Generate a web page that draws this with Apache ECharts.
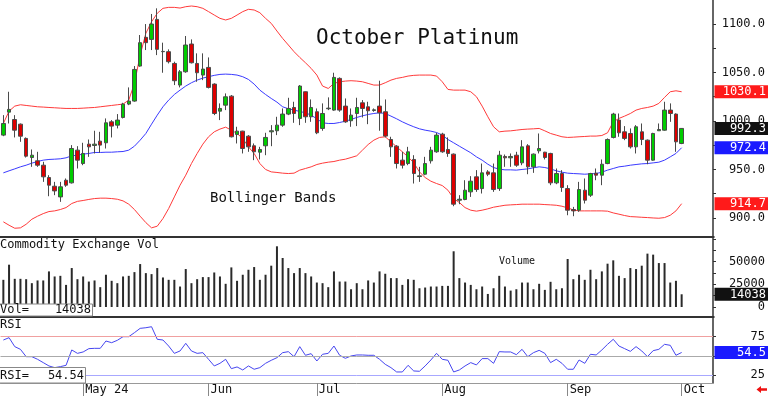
<!DOCTYPE html>
<html><head><meta charset="utf-8">
<script src="https://cdn.jsdelivr.net/npm/echarts@6/dist/echarts.min.js"></script>
<style>html,body{margin:0;padding:0;background:#fff}#c{width:768px;height:396px}</style>
</head><body><div id="c"></div>
<script>
// ---- categories: trading days Apr 11 2024 .. Oct 1 2024 ----
const months = [
  ['Apr', [11,12,15,16,17,18,19,22,23,24,25,26,29,30]],
  ['May', [1,2,3,6,7,8,9,10,13,14,15,16,17,20,21,22,23,24,28,29,30,31]],
  ['Jun', [3,4,5,6,7,10,11,12,13,14,17,18,20,21,24,25,26,27,28]],
  ['Jul', [1,2,3,5,8,9,10,11,12,15,16,17,18,19,22,23,24,25,26,29,30,31]],
  ['Aug', [1,2,5,6,7,8,9,12,13,14,15,16,19,20,21,22,23,26,27,28,29,30]],
  ['Sep', [3,4,5,6,9,10,11,12,13,16,17,18,19,20,23,24,25,26,27,30]],
  ['Oct', [1]]
];
const monthLabels = {May:'May 24', Jun:'Jun', Jul:'Jul', Aug:'Aug', Sep:'Sep', Oct:'Oct'};
const padCount = 5;

// ---- price series ----
const open = [985.4,1009.1,1001.5,996.7,982.0,962.3,958.9,954.4,941.7,932.7,921.7,938.9,936.2,969.9,956.1,976.1,974.7,979.2,977.5,999.1,
995.7,1003.6,1017.4,1020.5,1056.6,1086.2,1084.1,1104.7,1071.4,1071.4,1059.3,1037.0,1050.7,1079.3,1059.3,1047.3,1055.2,1038.0,1010.1,1016.3,
1025.6,986.1,989.5,984.3,974.4,967.8,974.4,988.8,989.9,995.7,1007.1,1013.9,1002.6,1030.1,1004.3,1009.5,992.3,1012.6,1011.2,1043.9,
1015.3,1000.2,1007.7,1018.7,1014.6,1010.8,1015.3,1009.5,980.9,974.0,959.6,956.1,960.3,942.7,945.1,958.9,968.2,986.4,970.6,965.8,
918.3,919.0,926.9,942.4,930.3,947.5,946.5,930.3,963.4,962.0,964.7,956.8,974.4,952.7,969.2,967.8,966.5,936.2,945.8,930.3,
908.7,908.0,928.6,923.5,946.2,944.1,956.1,983.0,1000.9,988.8,987.1,973.3,988.8,980.2,959.6,989.9,990.5,1011.2,1007.1,976.8];
const high = [1006.0,1030.1,1006.0,997.4,983.0,970.6,968.2,957.9,944.1,937.2,937.2,940.7,975.1,974.0,977.5,980.9,989.9,988.8,1002.6,1000.9,
1007.1,1018.7,1034.6,1056.6,1088.6,1099.9,1110.3,1116.1,1080.7,1073.8,1061.1,1052.5,1087.6,1084.1,1069.7,1069.7,1065.5,1038.8,1018.1,1028.4,
1026.7,994.0,989.9,985.4,976.8,973.3,987.8,995.7,1004.3,1012.9,1023.9,1019.8,1037.0,1030.4,1022.2,1012.9,1018.1,1024.3,1049.7,1044.9,
1023.2,1012.9,1023.9,1021.5,1019.8,1012.9,1041.5,1022.2,983.7,975.1,968.2,973.3,964.7,952.7,963.0,973.3,987.8,987.8,983.0,966.5,
923.5,938.9,943.1,949.3,956.1,949.3,956.1,969.2,965.4,966.5,968.2,980.2,976.1,966.5,987.1,968.2,967.2,951.0,949.3,933.8,
911.4,937.2,940.7,946.5,951.0,960.3,982.0,1008.4,1007.7,994.7,992.3,995.7,997.4,980.9,987.8,997.4,1019.8,1018.1,1007.8,992.6];
const low = [984.3,997.4,983.0,978.5,962.3,952.7,952.7,937.2,922.4,923.5,916.6,932.1,935.5,951.0,954.4,963.0,966.5,967.2,971.6,983.0,
992.3,1002.6,1016.3,1019.8,1055.9,1073.1,1073.1,1067.9,1049.7,1059.3,1037.0,1034.6,1049.7,1059.3,1040.4,1042.1,1033.5,1006.0,1000.9,1011.2,
983.0,976.8,966.5,968.2,959.6,960.3,964.7,974.0,985.4,994.0,1006.0,998.1,995.7,998.1,999.1,986.4,989.9,1011.2,1010.5,1009.5,
998.1,994.0,994.7,1003.6,996.7,1009.5,989.9,983.0,963.0,951.0,951.0,954.4,935.5,937.2,944.1,956.1,967.2,967.2,963.0,912.1,
914.2,918.3,921.7,926.9,925.2,943.1,926.9,927.9,952.7,952.7,952.7,954.4,945.1,946.5,966.5,960.3,933.8,934.8,926.9,902.8,
901.8,906.3,914.9,921.7,938.9,933.8,955.4,982.0,983.7,980.2,971.6,966.5,975.1,955.4,958.9,989.9,989.9,999.1,968.2,976.1];
const close = [997.4,1011.9,990.5,984.3,963.7,964.7,954.4,942.4,933.8,927.9,932.1,933.8,971.6,959.6,966.5,973.3,976.1,975.1,998.1,994.7,
1000.9,1017.4,1020.5,1053.1,1080.7,1080.7,1099.9,1073.8,1071.7,1061.1,1041.5,1050.7,1078.3,1060.0,1049.7,1053.5,1034.6,1007.7,1012.9,1024.9,
983.7,989.5,971.6,973.3,968.2,970.6,983.0,989.9,995.7,1007.1,1012.9,1007.7,1036.0,1004.3,1013.9,987.8,1007.7,1013.2,1044.9,1011.2,
999.1,1006.0,1013.9,1012.9,1010.5,1011.5,1008.4,984.4,973.3,956.1,954.4,968.2,945.8,943.4,956.1,969.9,985.4,968.2,966.5,914.2,
919.3,928.6,937.9,929.3,946.5,945.1,929.3,964.7,962.0,963.4,954.4,973.3,952.7,965.8,971.6,962.3,936.2,945.8,931.4,908.0,
907.3,929.3,918.3,945.8,944.1,955.4,980.9,1007.1,987.8,982.0,973.3,994.0,980.9,959.6,987.1,991.2,1011.2,1007.7,978.5,992.3];

// ---- Bollinger bands ----
const upperBand = [997.4,1010.1,1015.3,1016.7,1016.0,1015.3,1014.6,1014.3,1013.9,1013.6,1013.2,1012.9,1012.9,1012.9,1013.2,1013.6,1013.9,1014.6,1015.3,1016.0,
1016.7,1017.4,1021.5,1038.7,1067.9,1090.3,1102.3,1111.0,1116.1,1117.1,1117.1,1116.4,1117.8,1118.5,1117.8,1116.1,1112.7,1109.2,1105.8,1104.1,
1105.8,1109.2,1112.7,1115.1,1114.4,1111.6,1105.8,1100.6,1092.7,1085.1,1078.3,1071.4,1065.5,1060.0,1054.2,1047.3,1036.0,1033.5,1038.7,1040.4,
1041.1,1041.5,1041.1,1040.4,1038.7,1037.0,1037.0,1039.4,1042.1,1043.9,1044.9,1046.3,1047.0,1047.3,1047.3,1047.3,1046.3,1040.4,1032.5,1031.8,
1031.8,1031.8,1030.1,1025.0,1015.3,1004.3,994.0,988.8,989.5,989.8,990.5,991.2,991.6,991.9,992.3,989.8,987.1,985.4,983.7,983.0,
983.3,983.7,984.0,984.4,984.4,985.0,987.8,999.1,1002.6,1005.0,1007.7,1011.2,1012.9,1013.9,1015.3,1018.1,1024.3,1030.1,1031.1,1030.1];
const middleBand = [946.5,948.6,950.6,952.7,954.4,956.5,958.2,959.6,960.3,960.6,961.0,962.0,964.1,964.7,965.8,966.5,967.5,967.5,967.8,967.8,
968.2,968.5,969.9,974.0,980.2,987.1,996.7,1006.0,1014.6,1021.5,1027.3,1031.8,1036.0,1039.4,1042.1,1044.2,1045.6,1047.0,1048.0,1048.3,
1048.0,1047.3,1045.6,1042.8,1038.0,1031.8,1027.3,1023.2,1019.4,1014.6,1012.6,1011.2,1009.8,1008.4,1006.0,1002.2,998.1,997.4,997.4,998.4,
999.8,1001.5,1003.6,1005.3,1006.7,1007.7,1008.4,1007.7,1005.0,1002.2,999.1,996.4,994.0,991.9,990.5,989.5,988.1,985.4,980.9,977.5,
974.0,970.6,967.2,963.0,959.6,955.4,952.0,950.3,949.6,949.6,949.3,950.0,950.6,951.7,952.7,952.0,950.6,948.6,947.2,946.2,
945.8,945.5,945.1,945.5,945.8,947.2,949.3,951.0,952.7,953.4,954.4,955.1,955.8,956.1,956.8,957.5,959.6,963.0,966.5,972.4];
const lowerBand = [896.0,892.5,889.4,889.8,893.5,898.7,901.8,904.5,906.6,907.3,908.7,910.7,914.9,917.1,918.0,919.1,920.0,920.4,920.4,920.0,
919.3,917.6,914.2,908.7,901.8,895.2,889.8,891.5,899.4,909.7,921.7,933.8,944.1,956.1,966.5,976.1,983.7,988.8,991.6,993.6,
990.5,987.1,981.9,973.3,966.5,956.1,950.0,947.5,946.9,946.2,945.8,946.2,949.3,951.0,952.7,955.1,956.5,957.5,958.2,959.6,
960.6,962.3,964.1,969.9,975.7,980.2,983.0,983.7,978.5,973.3,968.2,963.0,956.8,947.5,941.7,937.9,935.5,933.4,928.6,920.0,
915.9,910.7,908.0,907.0,908.0,909.4,911.1,912.1,913.1,913.5,913.8,914.2,914.2,914.2,914.2,913.8,913.5,913.1,912.1,910.4,
908.3,907.3,907.3,907.3,907.3,907.3,907.0,905.2,903.9,902.5,901.4,901.1,900.7,900.4,900.0,899.7,900.4,902.8,907.3,914.7];

// ---- volume ----
const volume = [30000,46700,31100,31100,30700,26300,29300,29300,39300,33700,34400,24400,43000,30700,33700,28100,29300,21900,35600,28900,
26300,33700,34400,38500,47400,37400,36300,43000,32600,30000,30000,22600,41900,26300,30700,33000,33000,38100,33700,25600,
43700,28900,35600,41100,44100,30000,35600,45600,67000,54100,43000,37400,43000,37400,33700,27000,26300,21900,39300,28100,
28100,19600,26300,19600,29300,27000,39300,36700,31900,31900,24400,30700,30000,20700,21500,22600,22600,23300,23300,61500,
31900,27000,24400,19600,22600,14400,20700,34400,22600,18100,19600,27000,27000,19600,25600,18900,27800,19600,20700,53000,
30700,35600,30000,41100,30700,39300,47800,51500,34400,31900,43000,41900,45600,58900,57800,48500,48500,27000,28900,14038];

// ---- RSI ----
const rsi = [70.7,73.7,62.1,58.6,49.1,49.1,45.7,41.4,37.1,34.9,36.2,37.9,57.8,53.4,55.2,59.5,59.9,59.9,69.4,67.2,
70.3,75.0,75.0,80.2,85.8,86.6,87.9,71.6,70.7,62.9,53.4,56.5,66.4,56.5,53.4,54.3,45.7,37.1,40.5,45.7,
33.6,35.8,31.9,37.1,32.8,34.9,40.5,44.4,47.8,54.3,55.6,49.1,62.1,50.9,53.0,43.5,52.2,53.4,62.9,50.9,
47.0,50.0,51.3,51.3,50.9,50.9,45.7,39.2,34.9,29.3,29.3,37.9,30.6,30.2,37.1,44.8,53.4,45.7,44.4,29.3,
31.9,37.1,41.4,38.4,46.6,46.6,40.5,55.6,55.2,55.2,51.7,58.6,49.1,54.3,57.3,53.4,41.4,45.7,40.5,32.8,
32.8,44.8,40.5,52.2,51.3,57.8,65.1,71.6,62.9,59.5,56.0,62.1,56.5,49.1,56.9,58.6,65.1,63.8,50.9,54.54];

// ---- tick labels ----
const priceTicks = [900, 950, 1000, 1050, 1100];
const priceMinorTicks = [900, 925, 950, 975, 1000, 1025, 1050, 1075, 1100];
const volTicks = [0, 25000, 50000];
const rsiTicks = [25, 50, 75];

// ---------------------------------------------------------------
const FONT = '"DejaVu Sans Mono", "Liberation Mono", monospace';
const dates = [];
const labelAt = {};
months.forEach(([m, ds]) => {
  ds.forEach((d, j) => {
    if (j === 0 && monthLabels[m]) labelAt[dates.length] = monthLabels[m];
    dates.push(m + ' ' + d);
  });
});
for (let k = 0; k < padCount; k++) dates.push('pad' + k);
const n = close.length;
const ohlc = close.map((c, i) => [open[i], c, low[i], high[i]]);
const showIdx = (i) => labelAt[i] !== undefined;

const gridLeft = 0.5, gridW = 713.5;
const chart = echarts.init(document.getElementById('c'), null, {renderer: 'canvas'});

const hiddenX = (gi) => ({gridIndex: gi, type: 'category', data: dates, boundaryGap: true, show: false});
const yBase = (gi, min, max, labels, ticks, fmt) => ({
  gridIndex: gi, type: 'value', position: 'right', min, max, scale: false,
  splitLine: {show: false},
  axisLine: {show: true, lineStyle: {color: '#333', width: 1.5}},
  axisTick: {show: true, length: 3, customValues: ticks, lineStyle: {color: '#333'}},
  axisLabel: {show: true, customValues: labels, formatter: fmt, align: 'right', margin: 52,
    fontFamily: FONT, fontSize: 12, color: '#111'}
});

chart.setOption({
  animation: false,
  backgroundColor: '#fff',
  grid: [
    {left: gridLeft, top: 0, width: gridW, height: 236},
    {left: gridLeft, top: 238, width: gridW, height: 78},
    {left: gridLeft, top: 318, width: gridW, height: 65}
  ],
  xAxis: [hiddenX(0), hiddenX(1), {
    gridIndex: 2, type: 'category', data: dates, boundaryGap: true,
    axisLine: {show: true, lineStyle: {color: '#999', width: 1}},
    axisTick: {show: true, alignWithLabel: true, interval: showIdx, length: 13, lineStyle: {color: '#888'}},
    axisLabel: {show: true, interval: showIdx, formatter: (v, i) => labelAt[i] || '', align: 'left',
      padding: [0, 0, 0, 2], margin: 1, fontFamily: FONT, fontSize: 12, color: '#111'}
  }],
  yAxis: [
    yBase(0, 881.4, 1124.7, priceTicks, priceMinorTicks, v => v.toFixed(1)),
    yBase(1, -9934, 76159, volTicks, [0, 12500, 25000, 37500, 50000, 62500, 75000], v => String(v)),
    yBase(2, 15, 99.2, rsiTicks, rsiTicks, v => String(v))
  ],
  series: [
    {type: 'line', name: 'upper', xAxisIndex: 0, yAxisIndex: 0, data: upperBand, symbol: 'none',
      lineStyle: {color: '#ff3a3a', width: 1}, z: 2},
    {type: 'line', name: 'lower', xAxisIndex: 0, yAxisIndex: 0, data: lowerBand, symbol: 'none',
      lineStyle: {color: '#ff3a3a', width: 1}, z: 2},
    {type: 'line', name: 'middle', xAxisIndex: 0, yAxisIndex: 0, data: middleBand, symbol: 'none',
      lineStyle: {color: '#3a3aff', width: 1}, z: 2},
    {type: 'candlestick', xAxisIndex: 0, yAxisIndex: 0, data: ohlc, barWidth: 4,
      itemStyle: {color: '#00cc00', color0: '#dd0000', borderColor: '#4a4a4a', borderColor0: '#4a4a4a', borderWidth: 1}, z: 3},
    {type: 'bar', xAxisIndex: 1, yAxisIndex: 1, data: volume, barWidth: 2,
      itemStyle: {color: '#2a2a2a'}},
    {type: 'line', xAxisIndex: 2, yAxisIndex: 2, data: rsi, symbol: 'none',
      lineStyle: {color: '#4646f0', width: 1}, z: 3,
      markLine: {silent: true, symbol: ['none', 'none'], label: {show: false}, animation: false,
        data: [
          {yAxis: 75, lineStyle: {color: '#f0a0a0', width: 1, type: 'solid'}},
          {yAxis: 50, lineStyle: {color: '#aaaaaa', width: 1, type: 'solid'}},
          {yAxis: 25, lineStyle: {color: '#a8a8ff', width: 1, type: 'solid'}}
        ]}}
  ]
});

function txt(x, y, text, size, align, color, z) {
  return {type: 'text', x, y, z: z || 50, silent: true,
    style: {text, fill: color || '#111', font: size + 'px ' + FONT,
      align: align || 'left', verticalAlign: 'middle', textAlign: align || 'left', textVerticalAlign: 'middle'}};
}
function valueBox(yPix, text, bg) {
  return [
    {type: 'rect', z: 100, silent: true, shape: {x: 714.5, y: yPix - 6.5, width: 54, height: 13}, style: {fill: bg}},
    txt(766, yPix + 0.5, text, 12, 'right', '#fff', 101)
  ];
}
const last = n - 1;
const py = (ai, v) => chart.convertToPixel({yAxisIndex: ai}, v);

const g = [
  txt(316, 39, 'October Platinum', 21, 'left', '#111'),
  txt(210, 198, 'Bollinger Bands', 14, 'left', '#111'),
  {type: 'rect', z: 60, silent: true, shape: {x: 0, y: 236, width: 714.5, height: 2}, style: {fill: '#333'}},
  {type: 'rect', z: 60, silent: true, shape: {x: 0, y: 316, width: 714.5, height: 2}, style: {fill: '#333'}},
  txt(0, 245, 'Commodity Exchange Vol', 12, 'left', '#111'),
  txt(499, 261, 'Volume', 10, 'left', '#111'),
  {type: 'rect', z: 70, silent: true, shape: {x: -1, y: 304, width: 93.5, height: 12}, style: {fill: '#fff', stroke: '#888', lineWidth: 1}},
  txt(0, 310, 'Vol=', 12, 'left', '#111', 71),
  txt(91, 310, String(volume[last]), 12, 'right', '#111', 71),
  txt(0, 325, 'RSI', 12, 'left', '#111'),
  {type: 'rect', z: 70, silent: true, shape: {x: -1, y: 367.5, width: 86.5, height: 15.5}, style: {fill: '#fff', stroke: '#888', lineWidth: 1}},
  txt(0, 375.5, 'RSI=', 12, 'left', '#111', 71),
  txt(84, 375.5, rsi[last].toFixed(2), 12, 'right', '#111', 71),
  {type: 'polygon', z: 80, silent: true,
    shape: {points: [[756.5, 389.5], [761, 386], [761, 388.2], [767, 388.2], [767, 390.8], [761, 390.8], [761, 393]]},
    style: {fill: '#ee1111'}}
].concat(
  valueBox(py(0, upperBand[last]), upperBand[last].toFixed(1), '#ff1a1a'),
  valueBox(py(0, close[last]), close[last].toFixed(1), '#111111'),
  valueBox(py(0, middleBand[last]), middleBand[last].toFixed(1), '#1a1aff'),
  valueBox(py(0, lowerBand[last]), lowerBand[last].toFixed(1), '#ff1a1a'),
  valueBox(py(1, volume[last]), String(volume[last]), '#111111'),
  valueBox(py(2, rsi[last]), rsi[last].toFixed(1), '#1a1aff')
);
chart.setOption({graphic: g});
</script>
</body></html>
